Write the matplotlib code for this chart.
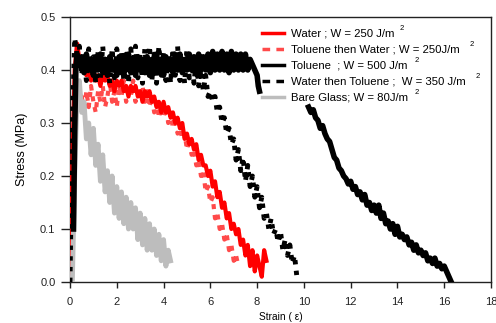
import numpy as np
import matplotlib
matplotlib.use("Agg")
import matplotlib.pyplot as plt
from matplotlib.lines import Line2D

plt.rcParams['font.family'] = ['Liberation Sans', 'DejaVu Sans']

# --- data (strain, stress in MPa) ---
water_x = [0.0, 0.1, 0.2, 0.3, 0.4, 0.5, 0.6, 0.7, 0.8, 0.9, 1.0, 1.1, 1.2, 1.3, 1.4, 1.5, 1.6,
           1.7, 1.8, 1.9, 2.0, 2.1, 2.2, 2.3, 2.4, 2.5, 2.6, 2.7, 2.8, 2.9, 3.0, 3.1, 3.2, 3.3,
           3.4, 3.5, 3.6, 3.7, 3.8, 3.9, 4.0, 4.1, 4.2, 4.3, 4.4, 4.5, 4.6, 4.7, 4.8, 4.9, 5.0,
           5.1, 5.2, 5.3, 5.4, 5.5, 5.6, 5.7, 5.8, 5.9, 6.0, 6.1, 6.2, 6.3, 6.4, 6.5, 6.6, 6.7,
           6.8, 6.9, 7.0, 7.1, 7.2, 7.3, 7.4, 7.5, 7.6, 7.7, 7.8, 7.9, 8.0, 8.1, 8.2, 8.3, 8.4]
water_y = [0.00, 0.22, 0.40, 0.45, 0.42, 0.40, 0.41, 0.39, 0.40, 0.38, 0.40, 0.38, 0.39, 0.37,
           0.39, 0.38, 0.39, 0.37, 0.38, 0.36, 0.38, 0.37, 0.38, 0.36, 0.37, 0.35, 0.37, 0.36,
           0.37, 0.35, 0.36, 0.34, 0.36, 0.35, 0.36, 0.34, 0.35, 0.33, 0.34, 0.32, 0.34, 0.32,
           0.33, 0.31, 0.32, 0.30, 0.31, 0.29, 0.30, 0.27, 0.28, 0.26, 0.27, 0.25, 0.26, 0.23,
           0.24, 0.22, 0.22, 0.20, 0.21, 0.18, 0.19, 0.16, 0.17, 0.14, 0.15, 0.12, 0.13, 0.10,
           0.11, 0.09, 0.10, 0.07, 0.08, 0.05, 0.07, 0.03, 0.06, 0.02, 0.05, 0.03, 0.01, 0.06,
           0.04]

tw_x = [0.0, 0.1, 0.2, 0.3, 0.4, 0.5, 0.6, 0.7, 0.8, 0.9, 1.0, 1.1, 1.2, 1.3, 1.4, 1.5, 1.6,
        1.7, 1.8, 1.9, 2.0, 2.1, 2.2, 2.3, 2.4, 2.5, 2.6, 2.7, 2.8, 2.9, 3.0, 3.1, 3.2, 3.3,
        3.4, 3.5, 3.6, 3.7, 3.8, 3.9, 4.0, 4.1, 4.2, 4.3, 4.4, 4.5, 4.6, 4.7, 4.8, 4.9, 5.0,
        5.1, 5.2, 5.3, 5.4, 5.5, 5.6, 5.7, 5.8, 5.9, 6.0, 6.1, 6.2, 6.3, 6.4, 6.5, 6.6, 6.7,
        6.8, 6.9, 7.0, 7.1, 7.2]
tw_y = [0.00, 0.20, 0.33, 0.36, 0.33, 0.35, 0.32, 0.36, 0.33, 0.37, 0.34, 0.32, 0.36, 0.34,
        0.37, 0.33, 0.35, 0.38, 0.34, 0.36, 0.33, 0.37, 0.35, 0.38, 0.34, 0.36, 0.35, 0.38,
        0.34, 0.36, 0.35, 0.37, 0.34, 0.36, 0.33, 0.35, 0.32, 0.34, 0.31, 0.33, 0.31, 0.33,
        0.30, 0.32, 0.29, 0.31, 0.28, 0.29, 0.27, 0.28, 0.25, 0.27, 0.24, 0.25, 0.22, 0.23,
        0.20, 0.21, 0.17, 0.18, 0.15, 0.16, 0.12, 0.13, 0.10, 0.11, 0.08, 0.09, 0.06, 0.07,
        0.04, 0.05, 0.03]

tol_x = [0.15, 0.2, 0.25, 0.3, 0.4, 0.5, 0.6, 0.7, 0.8, 0.9, 1.0, 1.1, 1.2, 1.3, 1.4, 1.5,
         1.6, 1.7, 1.8, 1.9, 2.0, 2.1, 2.2, 2.3, 2.4, 2.5, 2.6, 2.7, 2.8, 2.9, 3.0, 3.1, 3.2,
         3.3, 3.4, 3.5, 3.6, 3.7, 3.8, 3.9, 4.0, 4.1, 4.2, 4.3, 4.4, 4.5, 4.6, 4.7, 4.8, 4.9,
         5.0, 5.1, 5.2, 5.3, 5.4, 5.5, 5.6, 5.7, 5.8, 5.9, 6.0, 6.1, 6.2, 6.3, 6.4, 6.5, 6.6,
         6.7, 6.8, 6.9, 7.0, 7.1, 7.2, 7.3, 7.4, 7.5, 7.6, 7.7, 7.8, 7.9, 8.0, 8.05, 8.1,
         np.nan,
         10.2, 10.3, 10.4, 10.5, 10.6, 10.7, 10.8, 10.9, 11.0, 11.1, 11.2, 11.3, 11.4, 11.5,
         11.6, 11.7, 11.8, 11.9, 12.0, 12.1, 12.2, 12.3, 12.4, 12.5, 12.6, 12.7, 12.8, 12.9,
         13.0, 13.1, 13.2, 13.3, 13.4, 13.5, 13.6, 13.7, 13.8, 13.9, 14.0, 14.1, 14.2, 14.3,
         14.4, 14.5, 14.6, 14.7, 14.8, 14.9, 15.0, 15.1, 15.2, 15.3, 15.4, 15.5, 15.6, 15.7,
         15.8, 15.9, 16.0, 16.1, 16.2, 16.3]
tol_y = [0.10, 0.28, 0.40, 0.43, 0.41,
         0.425, 0.395, 0.43, 0.40, 0.42, 0.39, 0.425, 0.40, 0.43, 0.395,
         0.42, 0.39, 0.425, 0.40, 0.415, 0.39, 0.425, 0.395, 0.42, 0.40,
         0.43, 0.395, 0.42, 0.39, 0.425, 0.40, 0.42, 0.395, 0.425, 0.39,
         0.42, 0.40, 0.43, 0.395, 0.42, 0.39, 0.425, 0.40, 0.42, 0.395,
         0.425, 0.40, 0.43, 0.395, 0.42, 0.40, 0.43, 0.40, 0.425, 0.395,
         0.43, 0.40, 0.425, 0.40, 0.43, 0.395, 0.435, 0.40, 0.43, 0.40,
         0.435, 0.40, 0.43, 0.395, 0.435, 0.40, 0.43, 0.40, 0.43, 0.40,
         0.43, 0.40, 0.42, 0.41, 0.40, 0.39, 0.37, 0.36,
         np.nan,
         0.330, 0.320, 0.325, 0.310, 0.305, 0.290, 0.295, 0.280, 0.270, 0.265, 0.250, 0.235,
         0.230, 0.215, 0.210, 0.200, 0.195, 0.185, 0.190, 0.175, 0.180, 0.165, 0.170, 0.155,
         0.165, 0.145, 0.150, 0.135, 0.145, 0.130, 0.145, 0.120, 0.130, 0.110, 0.115, 0.100,
         0.110, 0.090, 0.105, 0.085, 0.090, 0.080, 0.085, 0.070, 0.075, 0.060, 0.070, 0.055,
         0.060, 0.050, 0.055, 0.040, 0.045, 0.035, 0.045, 0.030, 0.035, 0.025, 0.030, 0.020,
         0.010, 0.000]

wt_x = [0.0, 0.1, 0.2, 0.3, 0.4, 0.5, 0.6, 0.7, 0.8, 0.9, 1.0, 1.1, 1.2, 1.3, 1.4, 1.5, 1.6,
        1.7, 1.8, 1.9, 2.0, 2.1, 2.2, 2.3, 2.4, 2.5, 2.6, 2.7, 2.8, 2.9, 3.0, 3.1, 3.2, 3.3,
        3.4, 3.5, 3.6, 3.7, 3.8, 3.9, 4.0, 4.1, 4.2, 4.3, 4.4, 4.5, 4.6, 4.7, 4.8, 4.9, 5.0,
        5.1, 5.2, 5.3, 5.4, 5.5, 5.6, 5.7, 5.8, 5.9, 6.0, 6.1, 6.2, 6.3, 6.4, 6.5, 6.6, 6.7,
        6.8, 6.9, 7.0, 7.1, 7.2, 7.3, 7.4, 7.5, 7.6, 7.7, 7.8, 7.9, 8.0, 8.1, 8.2, 8.3, 8.4,
        8.5, 8.6, 8.7, 8.8, 8.9, 9.0, 9.1, 9.2, 9.3, 9.4, 9.5, 9.6, 9.7]
wt_y = [0.00, 0.30, 0.46, 0.43, 0.445, 0.39, 0.43, 0.38, 0.44, 0.395, 0.425, 0.375, 0.435, 0.385,
        0.445, 0.39, 0.43, 0.375, 0.44, 0.385, 0.44, 0.39, 0.435, 0.38, 0.43, 0.375, 0.44, 0.39,
        0.445, 0.385, 0.43, 0.375, 0.44, 0.39, 0.445, 0.38, 0.43, 0.375, 0.445, 0.39, 0.435, 0.38,
        0.43, 0.375, 0.44, 0.39, 0.445, 0.38, 0.43, 0.375, 0.44, 0.385, 0.43, 0.375, 0.42, 0.37,
        0.40, 0.36, 0.39, 0.35, 0.36, 0.34, 0.35, 0.32, 0.33, 0.30, 0.31, 0.28, 0.29, 0.26,
        0.27, 0.23, 0.25, 0.21, 0.235, 0.19, 0.22, 0.18, 0.20, 0.16, 0.18, 0.14, 0.16, 0.12,
        0.13, 0.10, 0.12, 0.09, 0.10, 0.075, 0.095, 0.06, 0.08, 0.05, 0.07, 0.035, 0.05, 0.01]

glass_x = [0.1, 0.2, 0.3, 0.4, 0.5, 0.6, 0.7, 0.8, 0.9, 1.0, 1.1, 1.2, 1.3, 1.4, 1.5, 1.6,
           1.7, 1.8, 1.9, 2.0, 2.1, 2.2, 2.3, 2.4, 2.5, 2.6, 2.7, 2.8, 2.9, 3.0, 3.1, 3.2,
           3.3, 3.4, 3.5, 3.6, 3.7, 3.8, 3.9, 4.0, 4.1, 4.2, 4.3]
glass_y = [0.00, 0.20, 0.35, 0.38, 0.32, 0.34, 0.27, 0.30, 0.24, 0.29, 0.22, 0.26, 0.19,
           0.24, 0.17, 0.21, 0.15, 0.20, 0.13, 0.18, 0.12, 0.17, 0.11, 0.16, 0.10, 0.15,
           0.10, 0.14, 0.08, 0.13, 0.07, 0.12, 0.06, 0.11, 0.06, 0.10, 0.05, 0.09, 0.04,
           0.08, 0.03, 0.06, 0.04]

labels = ["Water ; W = 250 J/m", "Toluene then Water ; W = 250J/m", "Toluene  ; W = 500 J/m",
          "Water then Toluene ;  W = 350 J/m", "Bare Glass; W = 80J/m"]
sup_pos = [(402, 29), (472, 44), (417, 60), (478, 77), (417, 93)]

fig = plt.figure(figsize=(4.96, 3.23), dpi=100)
ax = fig.add_axes([70/496, 41/323, 421/496, 265/323])

ax.plot(tw_x, tw_y, color='#ff4a4a', lw=3, ls=(0, (1.2, 1.4)), zorder=2)
ax.plot(water_x, water_y, color='#ff0000', lw=3, zorder=3)
ax.plot(glass_x, glass_y, color='#bdbdbd', lw=3.5, zorder=3)
ax.plot(wt_x, wt_y, color='black', lw=3.5, ls=(0, (0.9, 1.3)), zorder=4)
ax.plot(tol_x, tol_y, color='black', lw=4, zorder=5)

ax.set_xlim(0, 18)
ax.set_ylim(0, 0.5)
ax.set_xticks(np.arange(0, 19, 2))
ax.set_yticks([0.0, 0.1, 0.2, 0.3, 0.4, 0.5])
ax.set_yticklabels(['0.0', '0.1', '0.2', '0.3', '0.4', '0.5'])
ax.tick_params(axis='x', length=4.5, width=1, pad=6.5, labelsize=8, colors='#222222')
ax.tick_params(axis='y', length=6.5, width=1, pad=4, labelsize=8, colors='#222222')
for s in ax.spines.values():
    s.set_color('#222222')
    s.set_linewidth(1)

ax.set_xlabel('Strain ( \u03b5)', fontsize=7.3, labelpad=3.5)
ax.set_ylabel('Stress (MPa)', fontsize=9, labelpad=9)

handles = [Line2D([], [], color='#ff0000', lw=2.5),
           Line2D([], [], color='#ff4a4a', lw=2.5, ls=(0, (2.2, 1.8))),
           Line2D([], [], color='black', lw=2.5),
           Line2D([], [], color='black', lw=2.5, ls=(0, (2.2, 1.8))),
           Line2D([], [], color='#bdbdbd', lw=2.5)]
ax.legend(handles, labels, loc='upper left',
          bbox_to_anchor=(262/496, 1 - 29/323), bbox_transform=fig.transFigure,
          frameon=False, fontsize=8.2, handlelength=1.95, handletextpad=0.6,
          labelspacing=0.52, borderpad=0, borderaxespad=0)

for px, py in sup_pos:
    fig.text(px/496, 1 - py/323, '2', fontsize=5.5, ha='center', va='center')

fig.savefig('out.png', dpi=100)
